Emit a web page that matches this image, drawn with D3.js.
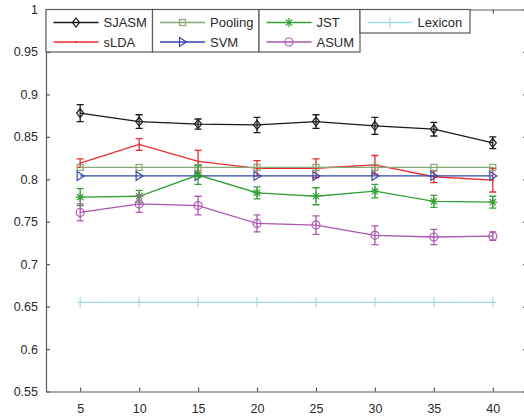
<!DOCTYPE html>
<html>
<head>
<meta charset="utf-8">
<script src="https://cdn.jsdelivr.net/npm/d3@7"></script>
<style>
  body { margin: 0; background: #fff; }
  text { font-family: "Liberation Sans", Arial, sans-serif; }
</style>
</head>
<body>
<div class="chart"></div>
<script>
// data
const topics = [5, 10, 15, 20, 25, 30, 35, 40];
const sjasm    = [0.878, 0.868, 0.865, 0.864, 0.868, 0.863, 0.859, 0.843];
const sjasmErr = [0.010, 0.008, 0.006, 0.009, 0.008, 0.010, 0.008, 0.007];
const slda     = [0.819, 0.841, 0.821, 0.813, 0.813, 0.817, 0.803, 0.799];
const sldaErr  = [0.005, 0.007, 0.013, 0.009, 0.011, 0.011, 0.007, 0.014];
const pooling  = [0.814, 0.814, 0.814, 0.814, 0.814, 0.814, 0.814, 0.814];
const svm      = [0.804, 0.804, 0.804, 0.804, 0.804, 0.804, 0.804, 0.804];
const jst      = [0.779, 0.780, 0.805, 0.784, 0.780, 0.786, 0.774, 0.773];
const jstErr   = [0.010, 0.007, 0.011, 0.007, 0.010, 0.008, 0.007, 0.007];
const asum     = [0.761, 0.771, 0.769, 0.748, 0.746, 0.734, 0.732, 0.733];
const asumErr  = [0.010, 0.010, 0.011, 0.010, 0.011, 0.011, 0.009, 0.005];
const lexicon  = [0.655, 0.655, 0.655, 0.655, 0.655, 0.655, 0.655, 0.655];
const yTicks = [0.55, 0.6, 0.65, 0.7, 0.75, 0.8, 0.85, 0.9, 0.95, 1];

const series = [
  {name: "SJASM",   vals: sjasm,   err: sjasmErr, color: "#1a1a1a", marker: "diamond"},
  {name: "sLDA",    vals: slda,    err: sldaErr,  color: "#ee2b2b", marker: "dot"},
  {name: "Pooling", vals: pooling, err: null,     color: "#86a876", marker: "square"},
  {name: "SVM",     vals: svm,     err: null,     color: "#3547ad", marker: "triangle"},
  {name: "JST",     vals: jst,     err: jstErr,   color: "#35a035", marker: "star"},
  {name: "ASUM",    vals: asum,    err: asumErr,  color: "#ad55b0", marker: "circle"},
  {name: "Lexicon", vals: lexicon, err: null,     color: "#9fd9e8", marker: "plus"}
];

const W = 524, H = 417;
const frame = {left: 46, right: 527, top: 9.5, bottom: 391.5};

const x = d3.scaleLinear().domain([2.1, 42.9]).range([frame.left, frame.right]);
const y = d3.scaleLinear().domain([0.55, 1]).range([frame.bottom, frame.top]);

const svg = d3.select(".chart").append("svg")
    .attr("width", W).attr("height", H);

const axisColor = "#5a5a5a", textColor = "#2a2a2a";
const fmt = d => d === 1 ? "1" : String(+d.toFixed(2));

// axes with inward ticks
svg.append("g")
    .attr("transform", "translate(0," + frame.bottom + ")")
    .call(d3.axisBottom(x).tickValues(topics).tickSizeInner(-4).tickSizeOuter(0).tickPadding(13));
svg.append("g")
    .attr("transform", "translate(" + frame.left + ",0)")
    .call(d3.axisLeft(y).tickValues(yTicks).tickFormat(fmt).tickSizeInner(-4).tickSizeOuter(0).tickPadding(8));
svg.append("g")
    .attr("transform", "translate(0," + frame.top + ")")
    .call(d3.axisTop(x).tickValues(topics).tickSizeInner(-4).tickSizeOuter(0).tickFormat(""));
svg.append("g")
    .attr("transform", "translate(" + frame.right + ",0)")
    .call(d3.axisRight(y).tickValues(yTicks).tickSizeInner(-4).tickSizeOuter(0).tickFormat(""));

svg.selectAll(".domain, .tick line").attr("stroke", axisColor).attr("stroke-width", 1.2);
svg.selectAll(".tick text").attr("fill", textColor).style("font-size", "12.5px");

// marker drawing
function drawMarker(g, type, cx, cy, color) {
  const s = {fill: "none", stroke: color, "stroke-width": 1.2};
  let el;
  if (type === "diamond") {
    el = g.append("path").attr("d", `M${cx},${cy-4.5}L${cx+3.5},${cy}L${cx},${cy+4.5}L${cx-3.5},${cy}Z`);
  } else if (type === "square") {
    el = g.append("rect").attr("x", cx - 3).attr("y", cy - 3).attr("width", 6).attr("height", 6);
  } else if (type === "triangle") {
    el = g.append("path").attr("d", `M${cx-3},${cy-4.5}L${cx+4},${cy}L${cx-3},${cy+4.5}Z`);
  } else if (type === "circle") {
    el = g.append("circle").attr("cx", cx).attr("cy", cy).attr("r", 4);
  } else if (type === "star") {
    const r = 4.5, d = r * 0.7;
    el = g.append("path").attr("d",
      `M${cx-r},${cy}H${cx+r}M${cx},${cy-r}V${cy+r}M${cx-d},${cy-d}L${cx+d},${cy+d}M${cx-d},${cy+d}L${cx+d},${cy-d}`);
  } else if (type === "plus") {
    el = g.append("path").attr("d", `M${cx-3},${cy}H${cx+3}M${cx},${cy-5}V${cy+5}`);
  } else {
    el = g.append("path").attr("d", `M${cx-1},${cy}H${cx+1}M${cx},${cy-1}V${cy+1}`);
  }
  Object.entries(s).forEach(([k, v]) => el.attr(k, v));
}

const line = d3.line().x((d, i) => x(topics[i])).y(d => y(d));

series.forEach(s => {
  const g = svg.append("g");
  g.append("path").datum(s.vals)
    .attr("d", line)
    .attr("fill", "none")
    .attr("stroke", s.color)
    .attr("stroke-width", 1.3);
  if (s.err) {
    s.vals.forEach((v, i) => {
      const cx = x(topics[i]), y0 = y(v - s.err[i]), y1 = y(v + s.err[i]);
      g.append("path")
        .attr("d", `M${cx},${y0}V${y1}M${cx-3.5},${y0}H${cx+3.5}M${cx-3.5},${y1}H${cx+3.5}`)
        .attr("fill", "none").attr("stroke", s.color).attr("stroke-width", 1.3);
    });
  }
  s.vals.forEach((v, i) => drawMarker(g, s.marker, x(topics[i]), y(v), s.color));
});

// legend: three columns of two rows plus a single-row box for Lexicon
const legendCols = [
  {x0: 46, x1: 152.5, items: [series[0], series[1]]},
  {x0: 152.5, x1: 259, items: [series[2], series[3]]},
  {x0: 259, x1: 360, items: [series[4], series[5]]},
  {x0: 360, x1: 470, items: [series[6]]}
];
const leg = svg.append("g");
const rowY = [22.5, 42];
legendCols.forEach(c => {
  const bottom = c.items.length === 2 ? 52 : 33;
  leg.append("rect")
    .attr("x", c.x0).attr("y", frame.top)
    .attr("width", c.x1 - c.x0).attr("height", bottom - frame.top)
    .attr("fill", "#fff").attr("stroke", axisColor).attr("stroke-width", 1.2);
  c.items.forEach((s, j) => {
    const ly = rowY[j], lx0 = c.x0 + 7.5, lx1 = lx0 + 45;
    leg.append("line").attr("x1", lx0).attr("x2", lx1).attr("y1", ly).attr("y2", ly)
      .attr("stroke", s.color).attr("stroke-width", 1.3);
    drawMarker(leg, s.marker, (lx0 + lx1) / 2, ly, s.color);
    leg.append("text").attr("x", lx1 + 5).attr("y", ly).attr("dy", "0.36em")
      .attr("fill", textColor).style("font-size", "13px").text(s.name);
  });
});
</script>
</body>
</html>
